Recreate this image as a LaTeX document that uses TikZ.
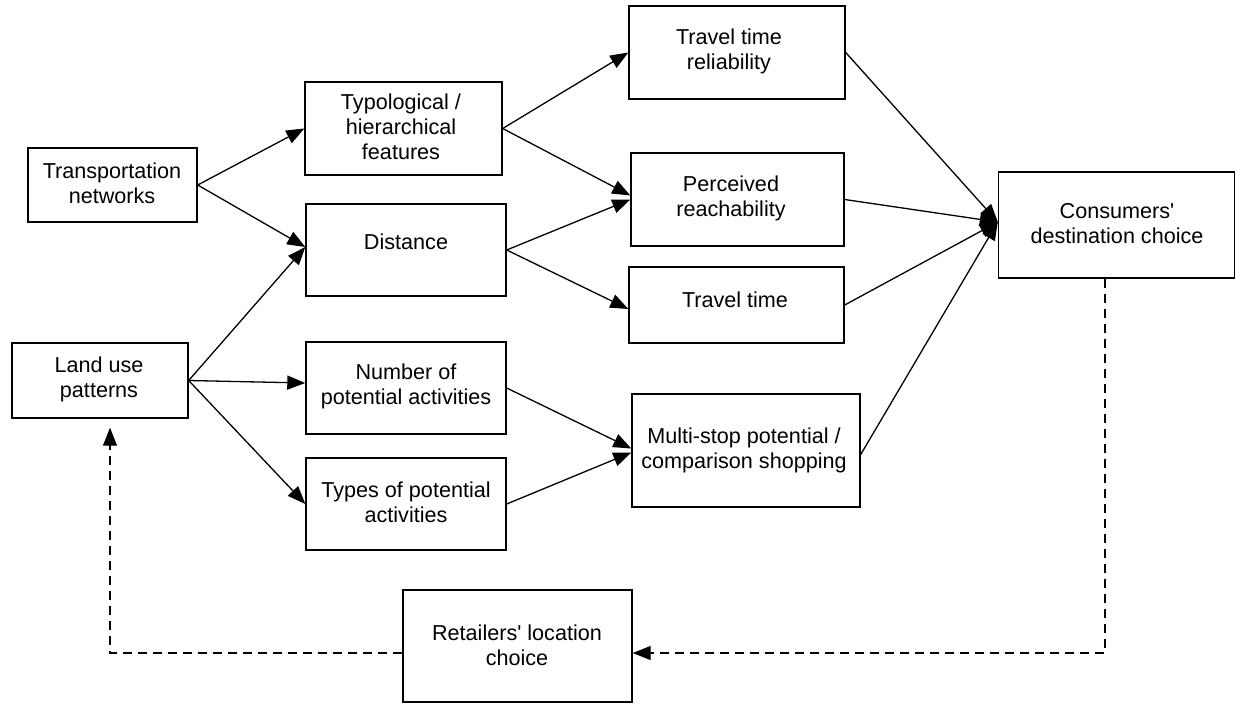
\documentclass[tikz,border=0pt]{standalone}
\usepackage{fontspec}
\setmainfont{Liberation Sans}
\usetikzlibrary{arrows.meta,calc}
\begin{document}
\begin{tikzpicture}[x=1pt,y=-1pt,
  box/.style={draw,line width=1.4pt,rectangle,inner sep=0pt,minimum width=#1},
  txt/.style={align=center,inner sep=0pt,font=\fontsize{21.6}{25}\selectfont},
  tip/.style={-{Triangle[length=18pt,width=14pt]}},
  conn/.style={line width=1.3pt,tip},
  fb/.style={line width=1.3pt,dash pattern=on 9pt off 6pt}]
\useasboundingbox (0,0) rectangle (1236,704);
% boxes
\node[box=169pt,minimum height=74pt] (trans) at (112.5,185) {};
\node[txt] (transT) at (112,183.5) {Transportation\\networks};
\node[box=197pt,minimum height=93pt] (typo) at (403.5,128.5) {};
\node[txt] (typoT) at (401,127) {Typological /\\hierarchical\\features};
\node[box=200pt,minimum height=92pt] (dist) at (406,250) {};
\node[txt] (distT) at (406,242) {Distance};
\node[box=176pt,minimum height=75pt] (land) at (100,380.5) {};
\node[txt] (landT) at (99,379.5) {Land use\\patterns};
\node[box=200pt,minimum height=92pt] (num) at (406,388) {};
\node[txt] (numT) at (406,386) {Number of\\potential activities};
\node[box=200pt,minimum height=92pt] (types) at (406,504) {};
\node[txt] (typesT) at (406,502) {Types of potential\\activities};
\node[box=216pt,minimum height=93pt] (ttr) at (737,52.5) {};
\node[txt] (ttrT) at (729,51.5) {Travel time\\reliability};
\node[box=213pt,minimum height=93pt] (perc) at (737.5,199.5) {};
\node[txt] (percT) at (731,198) {Perceived\\reachability};
\node[box=215pt,minimum height=76pt] (tt) at (736.5,305) {};
\node[txt] (ttT) at (735,300) {Travel time};
\node[box=228pt,minimum height=113pt] (multi) at (746,450.5) {};
\node[txt] (multiT) at (744,450) {Multi-stop potential /\\comparison shopping};
\node[box=236pt,minimum height=106pt] (cons) at (1116.5,225) {};
\node[txt] (consT) at (1117,223.5) {Consumers\textquotesingle\\destination choice};
\node[box=229pt,minimum height=112pt] (ret) at (517.5,646) {};
\node[txt] (retT) at (517,645) {Retailers\textquotesingle{} location\\choice};
% connectors
\coordinate (cin) at ($(cons.west)+(0,-3)$);
\draw[conn] (trans.east) -- (typo.west);
\draw[conn] (trans.east) -- ($(dist.west)+(0,-3)$);
\draw[conn] (land.east) -- ($(dist.west)+(0,-3)$);
\draw[conn] (land.east) -- ($(num.west)+(0,-5)$);
\draw[conn] (land.east) -- (types.west);
\draw[conn] (typo.east) -- (ttr.west);
\draw[conn] (typo.east) -- ($(perc.west)+(0,-4)$);
\draw[conn] (dist.east) -- ($(perc.west)+(0,0)$);
\draw[conn] (dist.east) -- ($(tt.west)+(0,4)$);
\draw[conn] (ttr.east) -- (cin);
\draw[conn] (perc.east) -- (cin);
\draw[conn] (tt.east) -- (cin);
\draw[conn] ($(multi.east)+(0,4)$) -- (cin);
\draw[conn] (num.east) -- ($(multi.west)+(0,-2)$);
\draw[conn] (types.east) -- ($(multi.west)+(0,2)$);
% feedback loop
\coordinate (c1) at (1105,653);
\coordinate (c2) at (110,653);
\draw[fb,tip] (cons.south -| c1) -- (c1) -- (c1 -| ret.east);
\draw[fb,tip,shorten >=9pt] (c1 -| ret.west) -- (c2) -- (c2 |- land.south);
\end{tikzpicture}
\end{document}
